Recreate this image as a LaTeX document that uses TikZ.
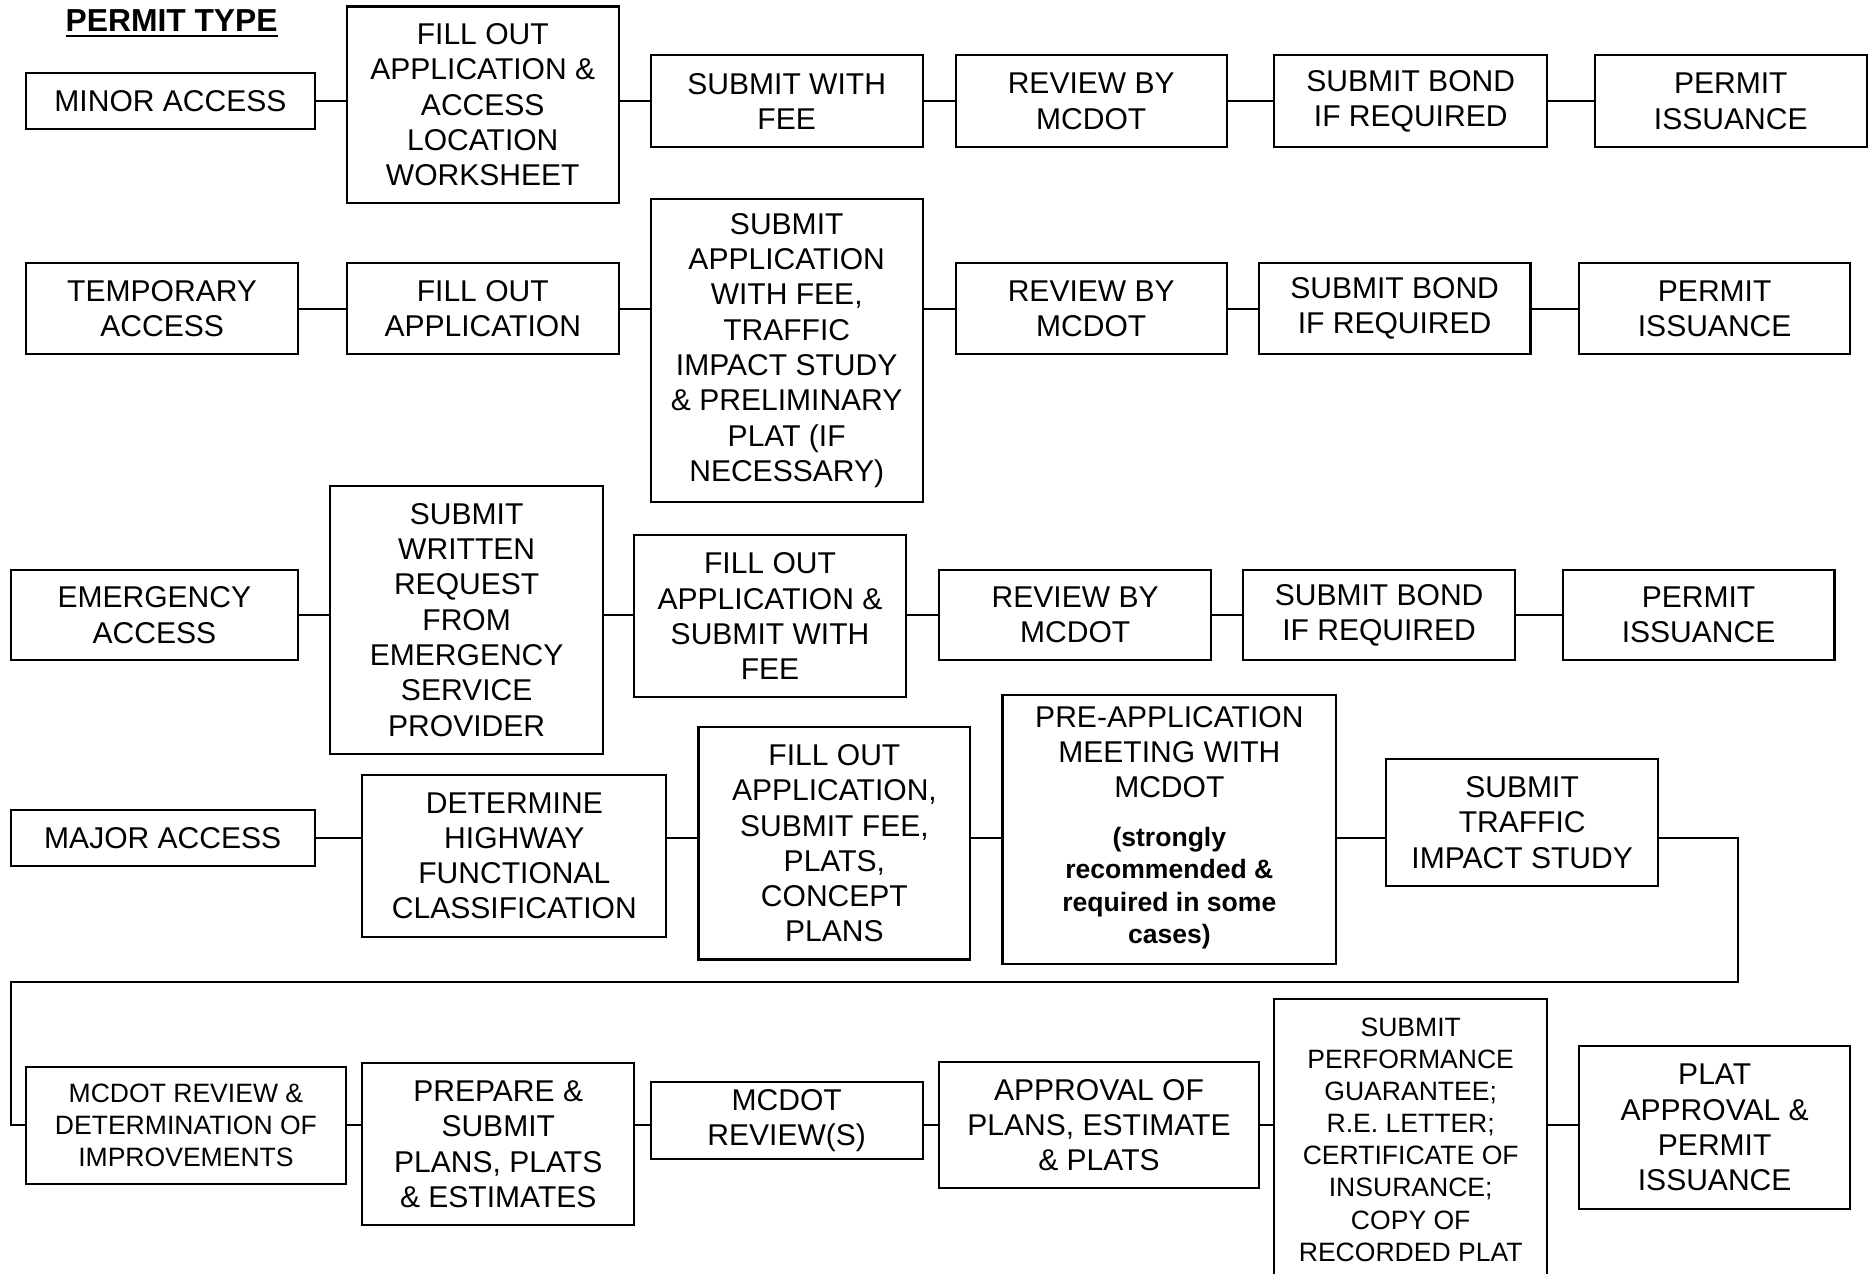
\documentclass[tikz,border=0pt]{standalone}
\usepackage{fontspec}
\setmainfont{Liberation Sans}
\usepackage{tikz}

\begin{document}
\begin{tikzpicture}[x=0.012cm,y=-0.012cm,line width=0.6pt]
        \tikzstyle{box}=[draw,align=center,inner sep=2pt,font=\fontsize{8.6}{10.1}\selectfont]
        \tikzset{size/.style 2 args={minimum width=#1*0.012cm,minimum height=#2*0.012cm}}
        \tikzstyle{small}=[font=\fontsize{7.6}{9.2}\selectfont]
  \useasboundingbox (0,0) rectangle (1568,1068);
  \node[font=\fontsize{9.1}{11}\selectfont\bfseries] (title) at (144,20) {\underline{PERMIT TYPE}};
  % minor access
  \node[box,size={242}{47}]  (A_1) at (143,85)    {MINOR ACCESS};
  \node[box,size={228}{165}] (A_2) at (405,88)    {FILL OUT\\APPLICATION \&\\ACCESS\\LOCATION\\WORKSHEET};
  \node[box,size={228}{77}]  (A_3) at (660,85)    {SUBMIT WITH\\FEE};
  \node[box,size={227}{77}]  (A_4) at (915.5,85)  {REVIEW BY\\MCDOT};
  \node[box,size={229}{77}]  (A_5) at (1183.5,85) {SUBMIT BOND\\IF REQUIRED};
  \node[box,size={228}{77}]  (A_6) at (1452,85)   {PERMIT\\ISSUANCE};
  \draw (A_1) -- (A_1 -| A_2.west);
  \draw (A_2.east |- A_3) -- (A_3) -- (A_4) -- (A_5) -- (A_6);
  % temporary access
  \node[box,size={228}{76}]  (B_1) at (136,259)    {TEMPORARY\\ACCESS};
  \node[box,size={228}{76}]  (B_2) at (405,259)    {FILL OUT\\APPLICATION};
  \node[box,size={228}{254}] (B_3) at (660,294)    {SUBMIT\\APPLICATION\\WITH FEE,\\TRAFFIC\\IMPACT STUDY\\\& PRELIMINARY\\PLAT (IF\\NECESSARY)};
  \node[box,size={227}{76}]  (B_4) at (915.5,259)  {REVIEW BY\\MCDOT};
  \node[box,size={228}{76}]  (B_5) at (1170,259)   {SUBMIT BOND\\IF REQUIRED};
  \node[box,size={227}{76}]  (B_6) at (1438.5,259) {PERMIT\\ISSUANCE};
  \draw (B_1) -- (B_2) -- (B_2 -| B_3.west);
  \draw (B_3.east |- B_4) -- (B_4) -- (B_5) -- (B_6);
  % emergency access
  \node[box,size={241}{76}]  (C_1) at (129.5,516) {EMERGENCY\\ACCESS};
  \node[box,size={229}{225}] (C_2) at (391.5,520) {SUBMIT\\WRITTEN\\REQUEST\\FROM\\EMERGENCY\\SERVICE\\PROVIDER};
  \node[box,size={228}{136}] (C_3) at (646,517)   {FILL OUT\\APPLICATION \&\\SUBMIT WITH\\FEE};
  \node[box,size={228}{76}]  (C_4) at (902,516)   {REVIEW BY\\MCDOT};
  \node[box,size={228}{76}]  (C_5) at (1157,516)  {SUBMIT BOND\\IF REQUIRED};
  \node[box,size={228}{76}]  (C_6) at (1425,516)  {PERMIT\\ISSUANCE};
  \draw (C_1) -- (C_1 -| C_2.west);
  \draw (C_2.east |- C_1) -- (C_3.west |- C_1);
  \draw (C_3.east |- C_4) -- (C_4) -- (C_5) -- (C_6);
  % major access
  \coordinate (r4) at (0,703);
  \node[box,size={255}{47}]  (D_1) at (136.5,703) {MAJOR ACCESS};
  \node[box,size={255}{136}] (D_2) at (431.5,718) {DETERMINE\\HIGHWAY\\FUNCTIONAL\\CLASSIFICATION};
  \node[box,size={228}{195}] (D_3) at (700,707.5) {FILL OUT\\APPLICATION,\\SUBMIT FEE,\\PLATS,\\CONCEPT\\PLANS};
  \node[box,size={280}{226}] (D_4) at (981,696)   {PRE-APPLICATION\\MEETING WITH\\MCDOT\\[6.5pt]{\fontsize{7.6}{9.2}\selectfont\bfseries
    \begin{tabular}{@{}c@{}}(strongly\\recommended \&\\required in some\\cases)\end{tabular}}};
  \node[box,size={228}{106}] (D_5) at (1277,690)  {SUBMIT\\TRAFFIC\\IMPACT STUDY};
  \draw (D_1) -- (D_2.west |- r4);
  \draw (D_2.east |- r4) -- (D_3.west |- r4);
  \draw (D_3.east |- r4) -- (D_4.west |- r4);
  \draw (D_4.east |- r4) -- (D_5.west |- r4);
  % return line to last row
  \coordinate (turn_1) at (1458,824);
  \coordinate (turn_2) at (9,944);
  \node[box,small,size={268}{98}]  (E_1) at (156,944)    {MCDOT REVIEW \&\\DETERMINATION OF\\IMPROVEMENTS};
  \node[box,size={228}{136}]       (E_2) at (418,960)    {PREPARE \&\\SUBMIT\\PLANS, PLATS\\\& ESTIMATES};
  \node[box,size={228}{65}]        (E_3) at (660,940)    {MCDOT\\REVIEW(S)};
  \node[box,size={268}{106}]       (E_4) at (922,944)    {APPROVAL OF\\PLANS, ESTIMATE\\\& PLATS};
  \node[box,small,size={229}{236}] (E_5) at (1183.5,956) {SUBMIT\\PERFORMANCE\\GUARANTEE;\\R.E. LETTER;\\CERTIFICATE OF\\INSURANCE;\\COPY OF\\RECORDED PLAT};
  \node[box,size={227}{137}]       (E_6) at (1438.5,946) {PLAT\\APPROVAL \&\\PERMIT\\ISSUANCE};
  \draw (D_5.east |- r4) -| (turn_1) -| (turn_2) -- (E_1.west);
  \draw (E_1) -- (E_1 -| E_2.west);
  \draw (E_2.east |- E_1) -- (E_3.west |- E_1);
  \draw (E_3.east |- E_1) -- (E_4);
  \draw (E_4) -- (E_4 -| E_5.west);
  \draw (E_5.east |- E_4) -- (E_6.west |- E_4);
    \end{tikzpicture}
\end{document}
